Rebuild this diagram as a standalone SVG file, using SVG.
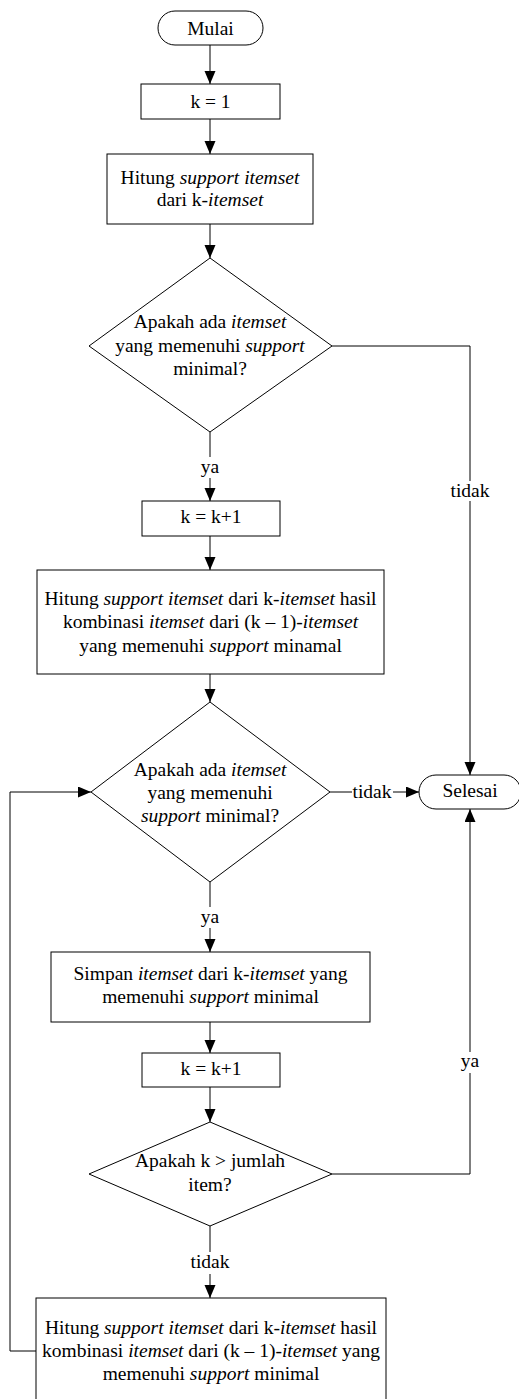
<svg xmlns="http://www.w3.org/2000/svg" width="519" height="1399" viewBox="0 0 519 1399">
<style>
.s{fill:#fff;stroke:#000;stroke-width:1}
.c{fill:none;stroke:#000;stroke-width:1}
text{font-family:"Liberation Serif","Times New Roman",serif;font-size:19.5px;fill:#000;text-anchor:middle}
.i{font-style:italic}
</style>
<defs>
<marker id="ah" markerUnits="userSpaceOnUse" markerWidth="14" markerHeight="12" refX="13" refY="5.5" orient="auto">
<path d="M0,0 L13,5.5 L0,11 z" fill="#000"/>
</marker>
</defs>
<rect width="519" height="1399" fill="#fff"/>
<g id="connectors">
<path class="c" d="M210,45 V84" marker-end="url(#ah)"/>
<path class="c" d="M210,119 V154" marker-end="url(#ah)"/>
<path class="c" d="M210,224 V258" marker-end="url(#ah)"/>
<path class="c" d="M210,432 V457 M210,478 V501" marker-end="url(#ah)"/>
<path class="c" d="M210,536 V570" marker-end="url(#ah)"/>
<path class="c" d="M210,674 V702" marker-end="url(#ah)"/>
<path class="c" d="M332,346 H470 V481 M470,501 V775" marker-end="url(#ah)"/>
<path class="c" d="M330,792 H352 M393,792 H419" marker-end="url(#ah)"/>
<path class="c" d="M210,882 V907 M210,928 V952" marker-end="url(#ah)"/>
<path class="c" d="M210,1022 V1053" marker-end="url(#ah)"/>
<path class="c" d="M210,1087 V1122" marker-end="url(#ah)"/>
<path class="c" d="M332,1174 H470 V1073 M470,1052 V809" marker-end="url(#ah)"/>
<path class="c" d="M210,1226 V1252 M210,1274 V1298" marker-end="url(#ah)"/>
<path class="c" d="M36,1351 H10 V792 H91" marker-end="url(#ah)"/>
<text x="210" y="473">ya</text>
<text x="470" y="497">tidak</text>
<text x="372" y="798">tidak</text>
<text x="210" y="923">ya</text>
<text x="470" y="1067">ya</text>
<text x="210" y="1268">tidak</text>
</g>
<g id="mulai">
<rect class="s" x="158" y="11" width="105" height="34" rx="17" ry="17"/>
<text x="210.5" y="35">Mulai</text>
</g>
<g id="k1">
<rect class="s" x="141" y="84" width="139" height="35"/>
<text x="210.5" y="108">k = 1</text>
</g>
<g id="hitung1">
<rect class="s" x="107" y="154" width="206" height="70"/>
<text x="210" y="184">Hitung <tspan class="i">support itemset</tspan></text>
<text x="210" y="206">dari k-<tspan class="i">itemset</tspan></text>
</g>
<g id="decision1">
<polygon class="s" points="210,258 332,346 210,432 89,346"/>
<text x="210" y="328">Apakah ada <tspan class="i">itemset</tspan></text>
<text x="210" y="352">yang memenuhi <tspan class="i">support</tspan></text>
<text x="210" y="375">minimal?</text>
</g>
<g id="kinc1">
<rect class="s" x="142" y="501" width="138" height="35"/>
<text x="211" y="523">k = k+1</text>
</g>
<g id="hitung2">
<rect class="s" x="37" y="570" width="347" height="104"/>
<text x="210.5" y="605">Hitung <tspan class="i">support itemset</tspan> dari k-<tspan class="i">itemset</tspan> hasil</text>
<text x="210.5" y="628">kombinasi <tspan class="i">itemset</tspan> dari (k – 1)-<tspan class="i">itemset</tspan></text>
<text x="210.5" y="652">yang memenuhi <tspan class="i">support</tspan> minamal</text>
</g>
<g id="decision2">
<polygon class="s" points="210,702 330,792 210,882 91,792"/>
<text x="210" y="776">Apakah ada <tspan class="i">itemset</tspan></text>
<text x="210" y="799">yang memenuhi</text>
<text x="210" y="822"><tspan class="i">support</tspan> minimal?</text>
</g>
<g id="selesai">
<rect class="s" x="419" y="775" width="102" height="34" rx="17" ry="17"/>
<text x="470" y="797">Selesai</text>
</g>
<g id="simpan">
<rect class="s" x="51" y="952" width="319" height="70"/>
<text x="210.5" y="980">Simpan <tspan class="i">itemset</tspan> dari k-<tspan class="i">itemset</tspan> yang</text>
<text x="210.5" y="1003">memenuhi <tspan class="i">support</tspan> minimal</text>
</g>
<g id="kinc2">
<rect class="s" x="142" y="1053" width="138" height="34"/>
<text x="211" y="1075">k = k+1</text>
</g>
<g id="decision3">
<polygon class="s" points="210,1122 332,1174 210,1226 89,1174"/>
<text x="210" y="1167">Apakah k &gt; jumlah</text>
<text x="210" y="1191">item?</text>
</g>
<g id="hitung3">
<rect class="s" x="36" y="1298" width="350" height="110"/>
<text x="211" y="1334">Hitung <tspan class="i">support itemset</tspan> dari k-<tspan class="i">itemset</tspan> hasil</text>
<text x="211" y="1357">kombinasi <tspan class="i">itemset</tspan> dari (k – 1)-<tspan class="i">itemset</tspan> yang</text>
<text x="211" y="1380">memenuhi <tspan class="i">support</tspan> minimal</text>
</g>
</svg>
